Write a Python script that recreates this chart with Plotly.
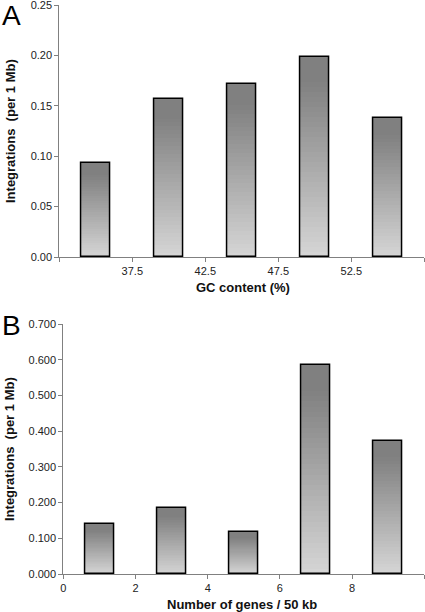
import plotly.graph_objects as go

# ---- data ----
gc_centers = [35, 40, 45, 50, 55]
gc_values = [0.093, 0.157, 0.172, 0.198, 0.138]
gc_ticks = [32.5, 37.5, 42.5, 47.5, 52.5, 57.5]
gc_ticktext = ["", "37.5", "42.5", "47.5", "52.5", ""]

gene_centers = [1, 3, 5, 7, 9]
gene_values = [0.141, 0.185, 0.117, 0.586, 0.373]
gene_ticks = [0, 2, 4, 6, 8, 10]
gene_ticktext = ["0", "2", "4", "6", "8", ""]

y1_ticks = [0.00, 0.05, 0.10, 0.15, 0.20, 0.25]
y2_ticks = [0.0, 0.1, 0.2, 0.3, 0.4, 0.5, 0.6, 0.7]

FONT = "Liberation Sans, Arial, sans-serif"
N = 40


def shade(t):
    # t: 0 at top, 1 at bottom
    if t < 0.12:
        v = 128
    else:
        v = 128 + (214 - 128) * ((t - 0.12) / 0.88)
    v = int(round(v))
    return f"rgb({v},{v},{v})"


fig = go.Figure()


def add_bars(xs, vals, width, xa, ya):
    for i in range(N):
        t = 1 - (i + 0.5) / N
        fig.add_trace(go.Bar(
            x=xs, y=[v / N for v in vals], base=[v * i / N for v in vals],
            width=width, marker=dict(color=shade(t), line=dict(width=0)),
            xaxis=xa, yaxis=ya, showlegend=False, hoverinfo="skip"))
    fig.add_trace(go.Bar(
        x=xs, y=vals, width=width,
        marker=dict(color="rgba(0,0,0,0)", line=dict(color="black", width=1.5)),
        xaxis=xa, yaxis=ya, showlegend=False))


add_bars(gc_centers, gc_values, 2.0, "x", "y")
add_bars(gene_centers, gene_values, 0.8, "x2", "y2")

axis_common = dict(showgrid=False, zeroline=False, showline=True,
                   linecolor="#808080", linewidth=1, ticks="outside",
                   tickcolor="#808080", ticklen=4, tickwidth=1, automargin=False,
                   ticklabeloverflow="allow",
                   tickfont=dict(family=FONT, size=11, color="#222"))

fig.update_layout(
    width=425, height=612,
    margin=dict(l=0, r=0, t=0, b=0),
    paper_bgcolor="white", plot_bgcolor="white",
    barmode="overlay", bargap=0,
    xaxis=dict(domain=[59.3 / 425, 424.3 / 425], range=[32.5, 57.5],
               tickvals=gc_ticks, ticktext=gc_ticktext, anchor="y", **axis_common),
    yaxis=dict(domain=[355 / 612, 607 / 612], range=[0, 0.25],
               tickvals=y1_ticks, tickformat=".2f", anchor="x", **axis_common),
    xaxis2=dict(domain=[63.3 / 425, 424.3 / 425], range=[0, 10],
                tickvals=gene_ticks, ticktext=gene_ticktext, anchor="y2", **axis_common),
    yaxis2=dict(domain=[38 / 612, 288 / 612], range=[0, 0.7],
                tickvals=y2_ticks, tickformat=".3f", anchor="x2", **axis_common),
)

ann = [
    dict(text="A", x=0, y=1 - 15 / 612, xanchor="left", yanchor="middle",
         font=dict(family=FONT, size=28, color="black")),
    dict(text="B", x=0, y=1 - 325 / 612, xanchor="left", yanchor="middle",
         font=dict(family=FONT, size=28, color="black")),
    dict(text="<b>GC content (%)</b>", x=243 / 425, y=1 - 287 / 612,
         xanchor="center", yanchor="middle",
         font=dict(family=FONT, size=13, color="#111")),
    dict(text="<b>Number of genes / 50 kb</b>", x=242 / 425, y=1 - 604 / 612,
         xanchor="center", yanchor="middle",
         font=dict(family=FONT, size=13, color="#111")),
    dict(text="<b>Integrations  (per 1 Mb)</b>", x=10 / 425, y=1 - 131 / 612,
         xanchor="center", yanchor="middle", textangle=-90,
         font=dict(family=FONT, size=13, color="#111")),
    dict(text="<b>Integrations  (per 1 Mb)</b>", x=10 / 425, y=1 - 449 / 612,
         xanchor="center", yanchor="middle", textangle=-90,
         font=dict(family=FONT, size=13, color="#111")),
]
for a in ann:
    a.update(xref="paper", yref="paper", showarrow=False)
fig.update_layout(annotations=ann)

fig.write_html("out.html",
               config={"displayModeBar": False},
               post_script="document.body.style.margin='0';"
                           "document.body.style.overflow='hidden';")
